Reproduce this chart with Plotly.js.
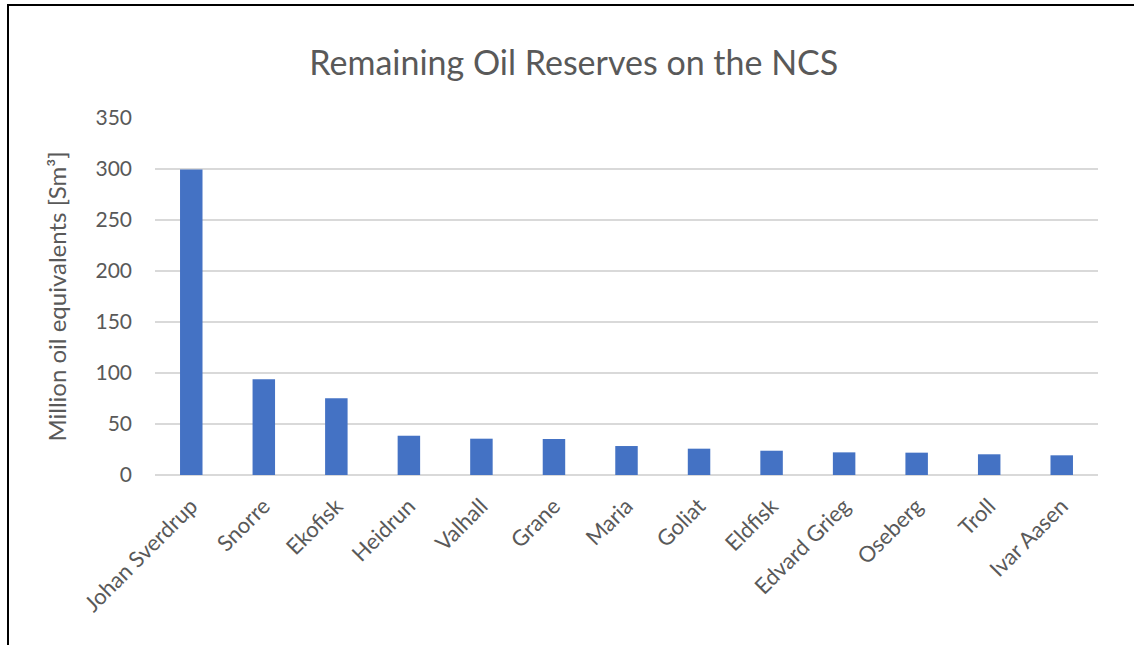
<!DOCTYPE html>
<html>
<head>
<meta charset="utf-8">
<script src="https://cdn.plot.ly/plotly-3.0.1.min.js"></script>
<style>
html,body{margin:0;padding:0;background:#fff;overflow:hidden;}
#chart{width:1134px;height:645px;}
#frame{position:absolute;left:7px;top:4px;width:1200px;height:700px;border-left:2px solid #000;border-top:2px solid #000;pointer-events:none;}
</style>
</head>
<body>
<div id="chart"></div>
<div id="frame"></div>
<script>
const fields = ["Johan Sverdrup","Snorre","Ekofisk","Heidrun","Valhall","Grane","Maria","Goliat","Eldfisk","Edvard Grieg","Oseberg","Troll","Ivar Aasen"];
const reserves = [299.5, 93.8, 75.2, 38.5, 35.6, 35.3, 28.4, 25.8, 23.8, 22.2, 21.9, 20.3, 19.3];
const yTicks = [0, 50, 100, 150, 200, 250, 300, 350];

const font = "Lato, 'Open Sans', sans-serif";
const grey = "#595959";

Plotly.newPlot("chart", [{
  type: "bar",
  x: fields,
  y: reserves,
  marker: {color: "#4472C4", line: {width: 0}},
  hoverinfo: "x+y"
}], {
  width: 1134,
  height: 645,
  margin: {l: 155, r: 36, t: 118, b: 170},
  paper_bgcolor: "#fff",
  plot_bgcolor: "#fff",
  bargap: 0.69,
  showlegend: false,
  title: {
    text: "Remaining Oil Reserves on the NCS",
    font: {family: font, size: 34, color: grey},
    x: 0.506, xref: "container", xanchor: "center",
    y: 0.902, yref: "container", yanchor: "middle"
  },
  xaxis: {
    type: "category",
    tickangle: -45,
    tickfont: {family: font, size: 22, color: grey},
    showgrid: false,
    showline: false,
    ticks: "",
    ticklabelstandoff: 13
  },
  yaxis: {
    range: [0, 350],
    tickvals: yTicks,
    ticktext: yTicks.map(String),
    tickfont: {family: font, size: 21, color: grey},
    showgrid: true,
    gridcolor: "#d9d9d9",
    gridwidth: 1.5,
    zeroline: true,
    zerolinecolor: "#d9d9d9",
    zerolinewidth: 1.5,
    showline: false,
    ticks: "",
    ticklabelstandoff: 22,
    title: {
      text: "Million oil equivalents [Sm³]",
      font: {family: font, size: 24, color: grey},
      standoff: 22
    }
  }
}, {displayModeBar: false, staticPlot: true});
</script>
</body>
</html>
